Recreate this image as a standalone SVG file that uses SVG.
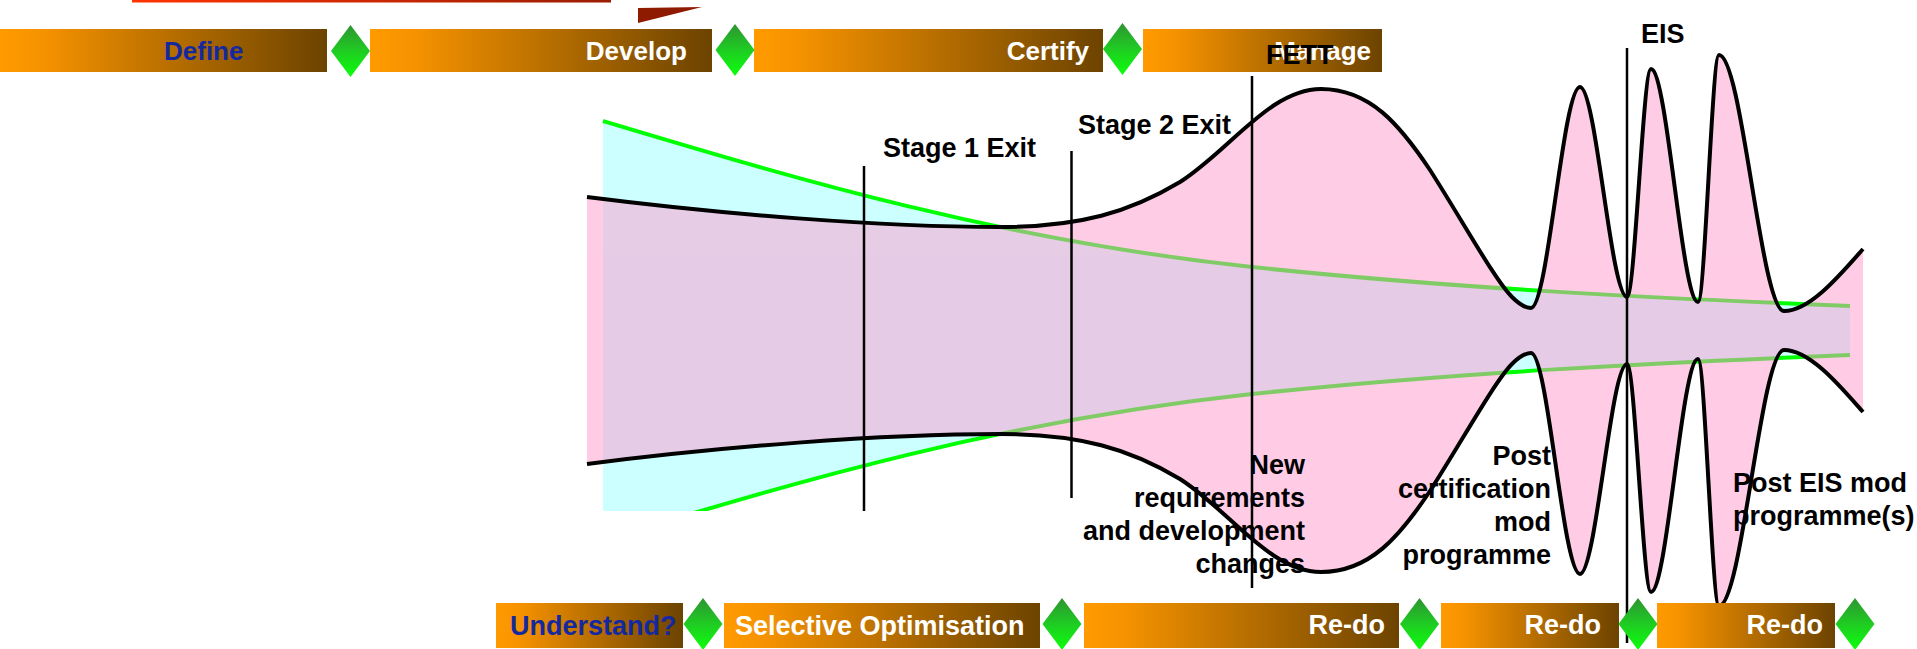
<svg xmlns="http://www.w3.org/2000/svg" xmlns:xlink="http://www.w3.org/1999/xlink" width="1917" height="649" viewBox="0 0 1917 649">
<style>
.t{font-family:"Liberation Sans",Arial,sans-serif;font-weight:bold;}
.tb{font-size:26px;}
.bb{font-size:27px;}
.w{fill:#ffffff;}
.b{fill:#1428a0;}
.k{fill:#000000;font-size:27px;}
.vl{stroke:#000;stroke-width:2.5;fill:none;}
.bar{fill:url(#barG);}
.dia{fill:url(#diaG);}
</style>
<defs>
<linearGradient id="barG" x1="0" y1="0" x2="1" y2="0">
<stop offset="0" stop-color="#ff9a00"/>
<stop offset="0.12" stop-color="#f79300"/>
<stop offset="1" stop-color="#6c4300"/>
</linearGradient>
<linearGradient id="diaG" x1="0" y1="0" x2="0" y2="1">
<stop offset="0" stop-color="#2e9432"/>
<stop offset="0.5" stop-color="#1fcc22"/>
<stop offset="1" stop-color="#0cff0c"/>
</linearGradient>
<linearGradient id="redG" x1="0" y1="0" x2="1" y2="0">
<stop offset="0" stop-color="#ff3300"/>
<stop offset="1" stop-color="#9a1c00"/>
</linearGradient>
<clipPath id="clipB"><rect x="0" y="0" width="1917" height="511"/></clipPath>
<path id="pinkHalf" d="M587,197 C720,214 880,227 1000,227 C1080,227 1130,212 1180,182 C1230,150 1270,89 1321,89 C1370,89 1400,125 1430,170 C1465,225 1495,280 1512,297 C1520,305 1526,308 1531,308 C1548,308 1563,87 1580,87 C1596,87 1611,297 1627,297 C1635,297 1643,69 1651,69 C1667,69 1682,302 1698,302 C1705,302 1712,55 1719,55 C1742,55 1761,311 1784,311 C1810,311 1840,275 1863,249 L1863,340 L587,340 Z"/>
<path id="upperCurve" d="M587,197 C720,214 880,227 1000,227 C1080,227 1130,212 1180,182 C1230,150 1270,89 1321,89 C1370,89 1400,125 1430,170 C1465,225 1495,280 1512,297 C1520,305 1526,308 1531,308 C1548,308 1563,87 1580,87 C1596,87 1611,297 1627,297 C1635,297 1643,69 1651,69 C1667,69 1682,302 1698,302 C1705,302 1712,55 1719,55 C1742,55 1761,311 1784,311 C1810,311 1840,275 1863,249"/>
<path id="cyanHalf" d="M603,121 C800,180 1000,240 1252,267 C1450,288 1650,298 1850,306 L1850,340 L603,340 Z"/>
<path id="greenCurve" d="M603,121 C800,180 1000,240 1252,267 C1450,288 1650,298 1850,306"/>
</defs>
<rect x="0" y="0" width="1917" height="649" fill="#ffffff"/>

<g id="chart">
<g clip-path="url(#clipB)">
<g fill="#ccffff">
<use xlink:href="#cyanHalf"/>
<use xlink:href="#cyanHalf" transform="translate(0,661) scale(1,-1)"/>
</g>
<g fill="none" stroke="#00ff00" stroke-width="4">
<use xlink:href="#greenCurve"/>
<use xlink:href="#greenCurve" transform="translate(0,661) scale(1,-1)"/>
</g>
</g>
<g opacity="0.5" fill="#ff99cc">
<use xlink:href="#pinkHalf"/>
<use xlink:href="#pinkHalf" transform="translate(0,661) scale(1,-1)"/>
</g>
<g fill="none" stroke="#000" stroke-width="4">
<use xlink:href="#upperCurve"/>
<use xlink:href="#upperCurve" transform="translate(0,661) scale(1,-1)"/>
</g>
</g>

<g id="connectors">
<line class="vl" x1="864" y1="166" x2="864" y2="511"/>
<line class="vl" x1="1071.5" y1="151" x2="1071.5" y2="498"/>
<line class="vl" x1="1252" y1="76" x2="1252" y2="588"/>
<line class="vl" x1="1627" y1="48" x2="1627" y2="643"/>
</g>

<g id="topDecor">
<rect x="132" y="0" width="479" height="2.5" fill="url(#redG)"/>
<polygon points="638,8 702,7 638,23" fill="#8e1b00"/>
</g>

<g id="node-define"><rect class="bar" x="0" y="29" width="327" height="43"/><text class="t tb b" x="164" y="60">Define</text></g>
<g id="node-develop"><rect class="bar" x="370" y="29" width="342" height="43"/><text class="t tb w" x="687" y="60" text-anchor="end">Develop</text></g>
<g id="node-certify"><rect class="bar" x="754" y="29" width="349" height="43"/><text class="t tb w" x="1089" y="60" text-anchor="end">Certify</text></g>
<g id="node-manage"><rect class="bar" x="1143" y="29" width="239" height="43"/><text class="t tb w" x="1371" y="60" text-anchor="end">Manage</text></g>

<g id="node-gate1"><polygon class="dia" points="350.5,25 370,51 350.5,77 331,51"/></g>
<g id="node-gate2"><polygon class="dia" points="735,24 754.5,50 735,76 715.5,50"/></g>
<g id="node-gate3"><polygon class="dia" points="1122.5,23 1142,49 1122.5,75 1103,49"/></g>

<g id="node-understand"><rect class="bar" x="496" y="603" width="187" height="45"/><text class="t bb b" x="510" y="635">Understand?</text></g>
<g id="node-selective"><rect class="bar" x="724" y="603" width="316" height="45"/><text class="t bb w" x="735" y="635">Selective Optimisation</text></g>
<g id="node-redo1"><rect class="bar" x="1084" y="603" width="315" height="45"/><text class="t bb w" x="1385" y="634" text-anchor="end">Re-do</text></g>
<g id="node-redo2"><rect class="bar" x="1441" y="603" width="178" height="45"/><text class="t bb w" x="1601" y="634" text-anchor="end">Re-do</text></g>
<g id="node-redo3"><rect class="bar" x="1657" y="603" width="178" height="45"/><text class="t bb w" x="1823" y="634" text-anchor="end">Re-do</text></g>

<g id="node-gate4"><polygon class="dia" points="703,598 722.5,624 703,650 683.5,624"/></g>
<g id="node-gate5"><polygon class="dia" points="1062,598 1081.5,624 1062,650 1042.5,624"/></g>
<g id="node-gate6"><polygon class="dia" points="1419.5,598 1439,624 1419.5,650 1400,624"/></g>
<g id="node-gate7"><polygon class="dia" points="1638,598 1657.5,624 1638,650 1618.5,624"/></g>
<g id="node-gate8"><polygon class="dia" points="1855,598 1874.5,624 1855,650 1835.5,624"/></g>

<g id="labels">
<text class="t k" x="1266" y="64" font-size="26">FETT</text>
<text class="t k" x="883" y="157">Stage 1 Exit</text>
<text class="t k" x="1078" y="134">Stage 2 Exit</text>
<text class="t k" x="1641" y="43">EIS</text>
<text class="t k" text-anchor="end"><tspan x="1305" y="474">New</tspan><tspan x="1305" y="507">requirements</tspan><tspan x="1305" y="540">and development</tspan><tspan x="1305" y="573">changes</tspan></text>
<text class="t k" text-anchor="end"><tspan x="1551" y="465">Post</tspan><tspan x="1551" y="498">certification</tspan><tspan x="1551" y="531">mod</tspan><tspan x="1551" y="564">programme</tspan></text>
<text class="t k"><tspan x="1733" y="492">Post EIS mod</tspan><tspan x="1733" y="525">programme(s)</tspan></text>
</g>
</svg>
